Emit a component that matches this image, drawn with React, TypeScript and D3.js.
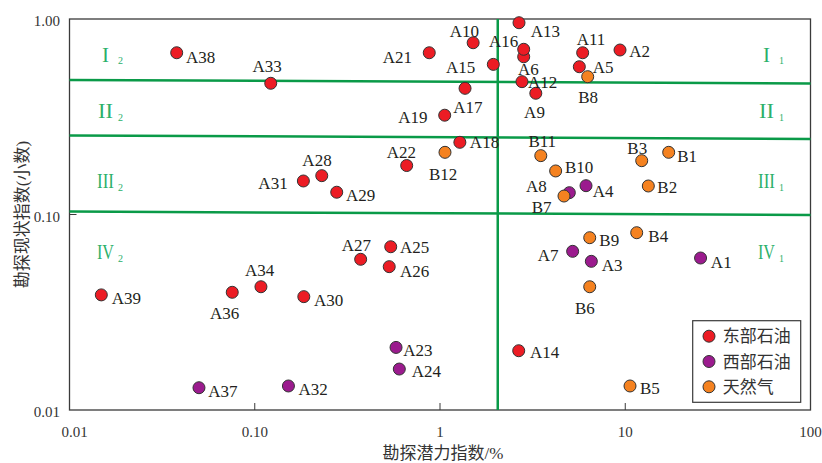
import React from "react";
import * as d3 from "d3";

// ---------- data ----------
const eastNames = ["A2","A5","A6","A9","A10","A11","A12","A13","A14","A15","A16","A17","A18","A19","A21","A22","A25","A26","A27","A28","A29","A30","A31","A33","A34","A36","A38","A39"];
const eastX = [9.37,5.65,2.83,3.29,1.51,5.89,2.77,2.67,2.66,1.94,2.83,1.365,1.28,1.06,0.875,0.661,0.542,0.532,0.373,0.23,0.277,0.184,0.183,0.122,0.108,0.0756,0.0379,0.01485];
const eastY = [0.694,0.57,0.641,0.417,0.756,0.672,0.478,0.957,0.0201,0.586,0.70,0.442,0.234,0.322,0.672,0.178,0.0684,0.0541,0.059,0.158,0.13,0.038,0.1484,0.469,0.0427,0.04,0.672,0.0388];

const westNames = ["A1","A3","A4","A7","A8","A23","A24","A32","A37"];
const westX = [25.5,6.56,6.14,5.2,4.99,0.579,0.603,0.152,0.05];
const westY = [0.0599,0.0576,0.1404,0.0648,0.1293,0.0209,0.0162,0.01327,0.013];

const gasNames = ["B1","B2","B3","B4","B5","B6","B7","B8","B9","B10","B11","B12"];
const gasX = [17.16,13.32,12.27,11.53,10.61,6.43,4.67,6.27,6.43,4.21,3.5,1.064];
const gasY = [0.208,0.1399,0.1885,0.0807,0.01327,0.0427,0.1243,0.507,0.0761,0.167,0.2,0.208];

const seriesNames = ["东部石油", "西部石油", "天然气"];
const seriesColors = ["#ec1c24", "#9b1b8e", "#f58220"];

const xTickValues = [0.01, 0.1, 1, 10, 100];
const xTickLabels = ["0.01", "0.10", "1", "10", "100"];
const yTickValues = [1, 0.1, 0.01];
const yTickLabels = ["1.00", "0.10", "0.01"];

// division lines (data units): [x1, y1, x2, y2]
const hLines = [
  [0.01, 0.4875, 100, 0.468],
  [0.01, 0.2536, 100, 0.2433],
  [0.01, 0.1035, 100, 0.0994],
];
const vLineX = 2.05;

const regionMain = ["I", "II", "III", "IV"];
const regionSub = ["2", "1"];

// ---------- layout ----------
const W = 822, H = 463;
const M = { left: 69.5, right: 810.5, top: 19, bottom: 410 };

// label offsets (dx to text start, dy to baseline) relative to point centre
const labelOffsets: Record<string, [number, number]> = {
  A38: [9.3, 10.6], A33: [-18.3, -11.6], A10: [-23.3, -5.4], A21: [-46.6, 10],
  A16: [-34.7, -2.6], A15: [-47.3, 8.4], A6: [-5.7, 18.3], A12: [6, 6.6],
  A9: [-11.7, 25], A13: [11.7, 14.6], A11: [-6, -7.7], A2: [9.3, 7.3],
  A5: [13.4, 6.6], B8: [-9.4, 26], A17: [-11.7, 25], A19: [-46.4, 8],
  A18: [10, 5.4], A22: [-20, -7.4], B12: [-16, 27.7], A28: [-19.4, -9.7],
  A31: [-45, 8.3], A29: [9.3, 8.7], A27: [-19, -8.3], A25: [9.3, 6.6],
  A26: [10.7, 10], A34: [-16, -10.7], A39: [10.4, 9], A36: [-22.3, 27],
  A30: [10.3, 9.3], A23: [7.3, 8.7], A24: [12.4, 8.3], A37: [9.3, 9],
  A32: [10, 9], B11: [-12.4, -9], B10: [9.3, 1.7], A8: [-43.3, -1],
  B7: [-32.3, 17.3], A4: [6.7, 11.6], B3: [-14.4, -6.7], B1: [8.6, 9.4],
  B2: [9, 6.7], B9: [9.6, 8.3], B4: [11.6, 9], A7: [-35, 9.4],
  A3: [10.4, 9.4], A1: [10.3, 9.7], B6: [-14.7, 27.6], A14: [11.3, 7.6],
  B5: [10, 8.3],
};

// region label placement (pixel baseline) per row, for left (sub 2) and right (sub 1)
const regionRowBaselines = [61.7, 118.3, 188, 259];
const regionWidths = [7, 15, 17, 17];
const regionLeftCenter = 105.5;
const regionRightCenter = 766.5;

const serif = "'Liberation Serif', 'Times New Roman', serif";
const cjk = "'Liberation Serif', 'Noto Sans CJK SC', serif";
const green = "#0a9a48";
const greenText = "#2bb06a";
const ink = "#231f20";

export default function App() {
  const x = d3.scaleLog().domain([0.01, 100]).range([M.left, M.right]);
  const y = d3.scaleLog().domain([0.01, 1]).range([M.bottom, M.top]);

  const groups = [
    { names: eastNames, xs: eastX, ys: eastY, color: seriesColors[0] },
    { names: westNames, xs: westX, ys: westY, color: seriesColors[1] },
    { names: gasNames, xs: gasX, ys: gasY, color: seriesColors[2] },
  ];

  const legendX = 692.7, legendY = 320.7;

  return (
    <svg width={W} height={H} style={{ position: "absolute", left: 0, top: 0, background: "#fff" }}>
      {/* frame */}
      <rect x={M.left} y={M.top} width={M.right - M.left} height={M.bottom - M.top} fill="none" stroke="#3a3a3a" strokeWidth={1.3} />

      {/* ticks */}
      {xTickValues.map((v, i) => (
        <g key={"xt" + i}>
          {i > 0 && i < xTickValues.length - 1 && (
            <line x1={x(v)} x2={x(v)} y1={M.bottom} y2={M.bottom - 7} stroke="#3a3a3a" strokeWidth={1} />
          )}
          <text x={x(v) + (i === 0 ? 5 : 0)} y={437} textAnchor="middle" fontFamily={serif} fontSize={15} fill="#333">
            {xTickLabels[i]}
          </text>
        </g>
      ))}
      {yTickValues.map((v, i) => (
        <g key={"yt" + i}>
          {i === 1 && <line x1={M.left} x2={M.left + 7} y1={y(v)} y2={y(v)} stroke="#3a3a3a" strokeWidth={1} />}
          <text x={60} y={y(v) + 7} textAnchor="end" fontFamily={serif} fontSize={15} fill="#333">
            {yTickLabels[i]}
          </text>
        </g>
      ))}

      {/* axis titles */}
      <text x={(M.left + M.right) / 2 + 3} y={459} textAnchor="middle" fontFamily={cjk} fontSize={17} fill="#333">
        勘探潜力指数/%
      </text>
      <text transform={`translate(28, ${(M.top + M.bottom) / 2}) rotate(-90)`} textAnchor="middle" fontFamily={cjk} fontSize={17} fill="#333">
        勘探现状指数(小数)
      </text>

      {/* division lines */}
      {hLines.map((l, i) => (
        <line key={"hl" + i} x1={x(l[0])} y1={y(l[1])} x2={x(l[2])} y2={y(l[3])} stroke={green} strokeWidth={2.5} />
      ))}
      <line x1={x(vLineX)} x2={x(vLineX)} y1={M.bottom} y2={M.top} stroke={green} strokeWidth={2.5} />

      {/* region labels */}
      {regionMain.map((r, i) => (
        <g key={"rg" + i}>
          {[regionLeftCenter, regionRightCenter].map((cx, j) => (
            <g key={j}>
              <text x={cx - regionWidths[i] / 2} y={regionRowBaselines[i]} fontFamily={serif} fontSize={22}
                fill={greenText} textLength={regionWidths[i]} lengthAdjust="spacingAndGlyphs">
                {r}
              </text>
              <text x={cx + 12.5} y={regionRowBaselines[i] + 2.5} fontFamily={serif} fontSize={10} fill={greenText}>
                {regionSub[j]}
              </text>
            </g>
          ))}
        </g>
      ))}

      {/* points */}
      {groups.map((g, gi) => (
        <g key={"g" + gi}>
          {g.names.map((n, i) => (
            <circle key={n} cx={x(g.xs[i])} cy={y(g.ys[i])} r={6} fill={g.color} stroke="#333" strokeWidth={1} />
          ))}
        </g>
      ))}
      {groups.map((g, gi) => (
        <g key={"lg" + gi}>
          {g.names.map((n, i) => {
            const off = labelOffsets[n] || [9, 8];
            return (
              <text key={n} x={x(g.xs[i]) + off[0]} y={y(g.ys[i]) + off[1]} fontFamily={serif} fontSize={17} fill={ink}>
                {n}
              </text>
            );
          })}
        </g>
      ))}

      {/* legend */}
      <rect x={legendX} y={legendY} width={108} height={81.6} fill="#fff" stroke="#3a3a3a" strokeWidth={1.2} />
      {seriesNames.map((s, i) => (
        <g key={"leg" + i}>
          <circle cx={legendX + 16.3} cy={legendY + 15.5 + i * 25.3} r={6} fill={seriesColors[i]} stroke="#333" strokeWidth={1} />
          <text x={legendX + 30} y={legendY + 21.5 + i * 25.3} fontFamily={cjk} fontSize={17} fill="#333">
            {s}
          </text>
        </g>
      ))}
    </svg>
  );
}
